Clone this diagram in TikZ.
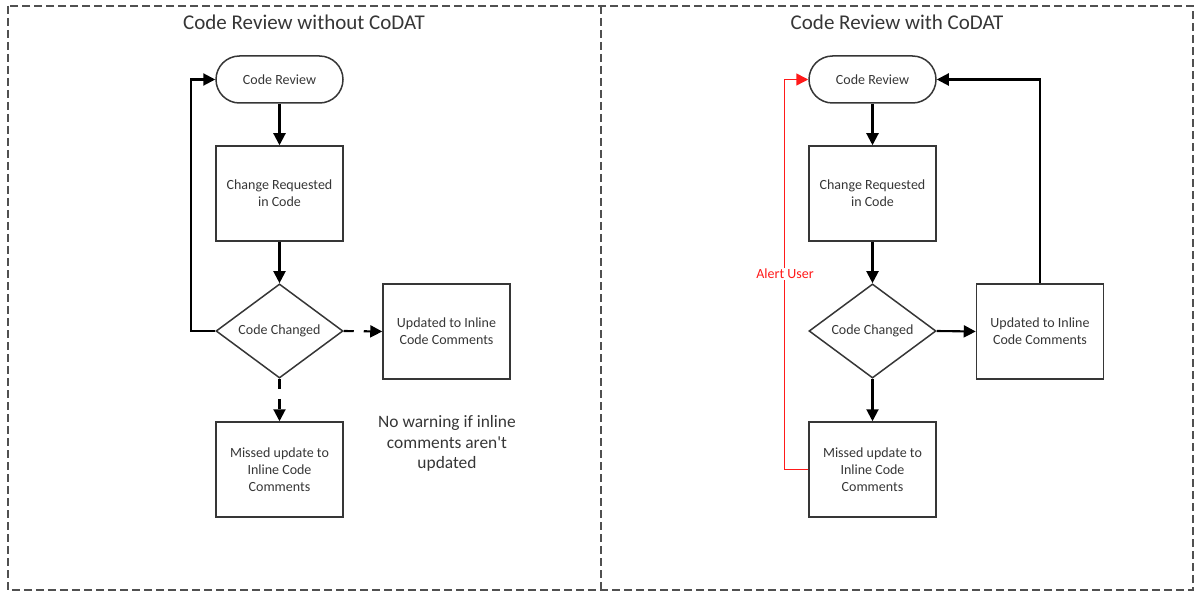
\documentclass[tikz,border=0pt]{standalone}
\usepackage{fontspec}
\setmainfont{Carlito}[Ligatures=TeXOff]
\usetikzlibrary{shapes.geometric,arrows.meta}
\definecolor{txt}{HTML}{363636}
\definecolor{frame}{HTML}{505050}
\definecolor{alert}{HTML}{FF1A1A}
\tikzset{
  boxstyle/.style={draw=txt, line width=1.5pt, minimum width=127pt, minimum height=95pt, inner sep=0pt, align=center, text=txt, font=\fontsize{14}{16.8}\selectfont},
  termstyle/.style={draw=txt, line width=1.5pt, rounded corners=23.5pt, minimum width=127pt, minimum height=47pt, inner sep=0pt, text=txt, font=\fontsize{14}{16.8}\selectfont},
  decstyle/.style={diamond, draw=txt, line width=1.5pt, minimum width=127pt, minimum height=94pt, inner sep=0pt, text=txt, font=\fontsize{14}{16.8}\selectfont},
  flow/.style={line width=2.1pt, draw=black, -{Triangle[length=12pt,width=12pt]}},
  dflow/.style={flow, dash pattern=on 10pt off 10pt},
  titlestyle/.style={text=txt, font=\fontsize{21}{25}\selectfont},
}
\begin{document}
\begin{tikzpicture}[x=1pt,y=-1pt]
\useasboundingbox (0,0) rectangle (1195,591);
% frames
\draw[frame, line width=1.6pt, dash pattern=on 8pt off 4pt] (8,6) rectangle (1193,590);
\draw[frame, line width=1.6pt, dash pattern=on 8pt off 4pt] (601,6) -- (601,590);
% titles
\node[titlestyle] (t1) at (304,22) {Code Review without CoDAT};
\node[titlestyle] (t2) at (897,22) {Code Review with CoDAT};
% left panel
\node[termstyle] (lterm) at (279.5,79.5) {Code Review};
\node[boxstyle] (lchg) at (279.5,193.5) {Change Requested\\in Code};
\node[decstyle] (ldec) at (279.5,331) {Code Changed};
\node[boxstyle] (lupd) at (446.5,331.5) {Updated to Inline\\Code Comments};
\node[boxstyle] (lmis) at (279.5,469.5) {Missed update to\\Inline Code\\Comments};
\node[text=txt, align=center, font=\fontsize{17.4}{20.6}\selectfont] (lnote) at (447,443.5) {No warning if inline\\comments aren't\\updated};
\draw[flow] (lterm) -- (lchg);
\draw[flow] (lchg) -- (ldec);
\draw[dflow] (ldec.east) -- (lupd.west);
\draw[dflow] (ldec.south) -- (lmis.north);
\draw[flow] (ldec.west) -- ++(-24,0) |- (lterm.west);
% right panel
\node[termstyle] (rterm) at (872.5,79.5) {Code Review};
\node[boxstyle] (rchg) at (872.5,193.5) {Change Requested\\in Code};
\node[decstyle] (rdec) at (872.5,331) {Code Changed};
\node[boxstyle] (rupd) at (1040,331.5) {Updated to Inline\\Code Comments};
\node[boxstyle] (rmis) at (872.5,469.5) {Missed update to\\Inline Code\\Comments};
\draw[flow] (rterm) -- (rchg);
\draw[flow] (rchg) -- (rdec);
\draw[flow] (rdec.east) -- (rupd.west);
\draw[flow] (rdec.south) -- (rmis.north);
\draw[flow] (rupd.north) |- (rterm.east);
\draw[flow, draw=alert, line width=1.5pt, -{Triangle[length=12pt,width=12pt,fill=alert]}] (rmis.west) -- ++(-24,0) |- (rterm.west);
\node[fill=white, text=alert, inner sep=1pt, font=\fontsize{14}{16.8}\selectfont] (alertlbl) at (785,274) {Alert User};
\end{tikzpicture}
\end{document}
